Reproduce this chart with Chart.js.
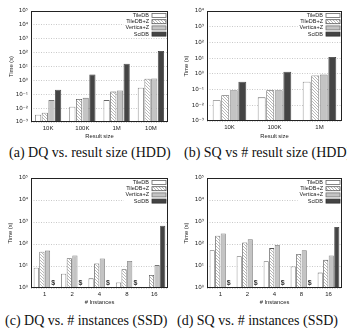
<!DOCTYPE html>
<html lang="en">
<head>
    <meta charset="UTF-8">
    <title>TileDB query times</title>
    <script src="https://cdn.jsdelivr.net/npm/chart.js"></script>
    <style>
        body { margin: 0; width: 347px; height: 328px; overflow: hidden; position: relative; background: #fff; }
        canvas { position: absolute; }
        .cap { position: absolute; font: 14px "Liberation Serif", serif; color: #111; white-space: nowrap; line-height: 16px; }
    </style>
</head>
<body>
    <canvas id="chartA" width="172" height="142" style="left:0;top:0"></canvas>
    <canvas id="chartB" width="175" height="142" style="left:172px;top:0"></canvas>
    <canvas id="chartC" width="172" height="145" style="left:0;top:163px"></canvas>
    <canvas id="chartD" width="175" height="145" style="left:172px;top:163px"></canvas>
    <div class="cap" style="left:9px;top:145px">(a) DQ vs. result size (HDD)</div>
    <div class="cap" style="left:184px;top:145px">(b) SQ vs # result size (HDD)</div>
    <div class="cap" style="left:5px;top:313px">(c) DQ vs. # instances (SSD)</div>
    <div class="cap" style="left:177px;top:313px">(d) SQ vs. # instances (SSD)</div>

    <script>
        // series names
        const seriesNames = ['TileDB', 'TileDB+Z', 'Vertica+Z', 'SciDB'];

        // (a) dense queries vs result size, HDD
        const dqSizeLabels = ['10K', '100K', '1M', '10M'];
        const dqTileDB = [0.0034, 0.0125, 0.038, 0.3];
        const dqTileDBZ = [0.0047, 0.045, 0.155, 1.3];
        const dqVerticaZ = [0.038, 0.055, 0.19, 1.35];
        const dqSciDB = [0.21, 2.7, 16, 130];

        // (b) sparse queries vs result size, HDD
        const sqSizeLabels = ['10K', '100K', '1M'];
        const sqTileDB = [0.021, 0.032, 0.32];
        const sqTileDBZ = [0.044, 0.09, 0.78];
        const sqVerticaZ = [0.09, 0.09, 0.9];
        const sqSciDB = [0.32, 1.35, 12];

        // (c) dense queries vs instances, SSD
        const instLabels = ['1', '2', '4', '8', '16'];
        const dqInstTileDB = [8.4, 4.5, 2.75, 1.8, null];
        const dqInstTileDBZ = [45, 22.5, 13, 7.1, 3.9];
        const dqInstVerticaZ = [50, 30, 22, 17, 11];
        const dqInstSciDB = [null, null, null, null, 680];

        // (d) sparse queries vs instances, SSD
        const sqInstTileDB = [52, 28, 16.5, 9.5, 5];
        const sqInstTileDBZ = [240, 118, 65, 35, 19];
        const sqInstVerticaZ = [300, 163, 90, 52, 30];
        const sqInstSciDB = [null, null, null, null, 590];

        // "$" marks where SciDB has no bar
        const dollarLabels = ['1', '2', '4', '8'];

        const supMap = { '-': '⁻', '0': '⁰', '1': '¹', '2': '²', '3': '³', '4': '⁴', '5': '⁵' };
        const sup = n => String(n).split('').map(c => supMap[c]).join('');

        function makeHatch(ctx) {
            const c = document.createElement('canvas');
            c.width = 3; c.height = 3;
            const g = c.getContext('2d');
            g.fillStyle = '#fff';
            g.fillRect(0, 0, 3, 3);
            g.strokeStyle = '#999';
            g.lineWidth = 0.7;
            g.beginPath();
            g.moveTo(0, 0); g.lineTo(3, 3);
            g.moveTo(-1, 2); g.lineTo(1, 4);
            g.moveTo(2, -1); g.lineTo(4, 1);
            g.stroke();
            return ctx.createPattern(c, 'repeat');
        }

        // box round the plot area
        const frame = {
            id: 'frame',
            afterDatasetsDraw(chart) {
                const { ctx, chartArea: a } = chart;
                ctx.save();
                ctx.strokeStyle = '#222';
                ctx.lineWidth = 1;
                ctx.strokeRect(Math.round(a.left) + 0.5, Math.round(a.top) + 0.5,
                    Math.round(a.right - a.left) - 1, Math.round(a.bottom - a.top) - 1);
                ctx.restore();
            }
        };

        // legend: text on the left, swatch on the right
        const boxLegend = {
            id: 'boxLegend',
            afterDraw(chart) {
                const { ctx, chartArea: a } = chart;
                ctx.save();
                ctx.font = '5.5px "Liberation Sans"';
                let maxW = 0;
                chart.data.datasets.forEach(ds => { maxW = Math.max(maxW, ctx.measureText(ds.label).width); });
                ctx.fillStyle = '#fff';
                ctx.fillRect(a.right - 21 - maxW, a.top + 1.5, maxW + 19.5, 25.5);
                ctx.textAlign = 'right';
                ctx.textBaseline = 'middle';
                chart.data.datasets.forEach((ds, i) => {
                    const y = a.top + 4.5 + i * 6.2;
                    ctx.fillStyle = '#222';
                    ctx.fillText(ds.label, a.right - 19, y);
                    ctx.fillStyle = ds.backgroundColor;
                    ctx.fillRect(a.right - 16, y - 2, 14, 4);
                    ctx.strokeStyle = ds.borderColor;
                    ctx.lineWidth = 0.8;
                    ctx.strokeRect(a.right - 16, y - 2, 14, 4);
                });
                ctx.restore();
            }
        };

        const dollars = {
            id: 'dollars',
            afterDatasetsDraw(chart, args, opts) {
                if (!opts.labels) return;
                const { ctx, chartArea: a } = chart;
                const meta = chart.getDatasetMeta(3);
                ctx.save();
                ctx.font = 'bold 7px "Liberation Sans"';
                ctx.fillStyle = '#333';
                ctx.textAlign = 'center';
                ctx.textBaseline = 'middle';
                opts.labels.forEach(lab => {
                    const i = chart.data.labels.indexOf(lab);
                    if (i >= 0 && meta.data[i]) ctx.fillText('$', meta.data[i].x, a.bottom - 4.5);
                });
                ctx.restore();
            }
        };

        function buildChart(id, labels, values, o) {
            const ctx = document.getElementById(id).getContext('2d');
            const fills = ['#ffffff', makeHatch(ctx), '#c4c4c4', '#444444'];
            const edges = ['#666', '#555', '#777', '#333'];
            const decades = [];
            for (let p = o.minExp; p <= o.maxExp; p++) decades.push(Math.pow(10, p));

            return new Chart(ctx, {
                type: 'bar',
                data: {
                    labels: labels,
                    datasets: values.map((v, i) => ({
                        label: seriesNames[i],
                        data: v,
                        backgroundColor: fills[i],
                        borderColor: edges[i],
                        borderWidth: 0.8,
                        categoryPercentage: o.catPct,
                        barPercentage: 0.92
                    }))
                },
                options: {
                    responsive: false,
                    animation: false,
                    devicePixelRatio: 1,
                    layout: { padding: { top: o.top, right: o.right, left: 0, bottom: 0 } },
                    plugins: {
                        legend: { display: false },
                        tooltip: { enabled: false },
                        dollars: { labels: o.dollars }
                    },
                    scales: {
                        x: {
                            grid: { display: false, drawTicks: false },
                            border: { display: false },
                            ticks: { color: '#222', padding: 3, font: { family: 'Liberation Sans', size: 6 }, maxRotation: 0 },
                            title: { display: true, text: o.xTitle, color: '#222', padding: { top: 0, bottom: 2.4 },
                                font: { family: 'Liberation Sans', size: 5.8 } },
                            afterFit: s => { s.height = o.xH; }
                        },
                        y: {
                            type: 'logarithmic',
                            min: decades[0],
                            max: decades[decades.length - 1],
                            grid: { color: '#bbb', lineWidth: 0.8, drawTicks: false },
                            border: { display: false, dash: [1, 1.5] },
                            afterBuildTicks: s => { s.ticks = decades.map(v => ({ value: v })); },
                            ticks: {
                                color: '#222', padding: 3, font: { family: 'DejaVu Sans', size: 5.6 },
                                callback: v => '10' + sup(Math.round(Math.log10(v)))
                            },
                            title: { display: true, text: 'Time (s)', color: '#222', padding: { top: o.titlePad, bottom: 0 },
                                font: { family: 'Liberation Sans', size: 5.8 } },
                            afterFit: s => { s.width = o.yW; }
                        }
                    }
                },
                plugins: [frame, boxLegend, dollars]
            });
        }

        buildChart('chartA', dqSizeLabels, [dqTileDB, dqTileDBZ, dqVerticaZ, dqSciDB],
            { minExp: -3, maxExp: 5, top: 11, right: 4, yW: 31, xH: 20, titlePad: 7.9, catPct: 0.78, xTitle: 'Result size', dollars: null });
        buildChart('chartB', sqSizeLabels, [sqTileDB, sqTileDBZ, sqVerticaZ, sqSciDB],
            { minExp: -3, maxExp: 4, top: 11, right: 5, yW: 35, xH: 21, titlePad: 10.9, catPct: 0.76, xTitle: 'Result size', dollars: null });
        buildChart('chartC', instLabels, [dqInstTileDB, dqInstTileDBZ, dqInstVerticaZ, dqInstSciDB],
            { minExp: 0, maxExp: 5, top: 15, right: 4, yW: 31, xH: 20, titlePad: 7.4, catPct: 0.82, xTitle: '# Instances', dollars: dollarLabels });
        buildChart('chartD', instLabels, [sqInstTileDB, sqInstTileDBZ, sqInstVerticaZ, sqInstSciDB],
            { minExp: 0, maxExp: 5, top: 15, right: 5, yW: 35, xH: 20, titlePad: 11.4, catPct: 0.82, xTitle: '# Instances', dollars: dollarLabels });
    </script>
</body>
</html>
